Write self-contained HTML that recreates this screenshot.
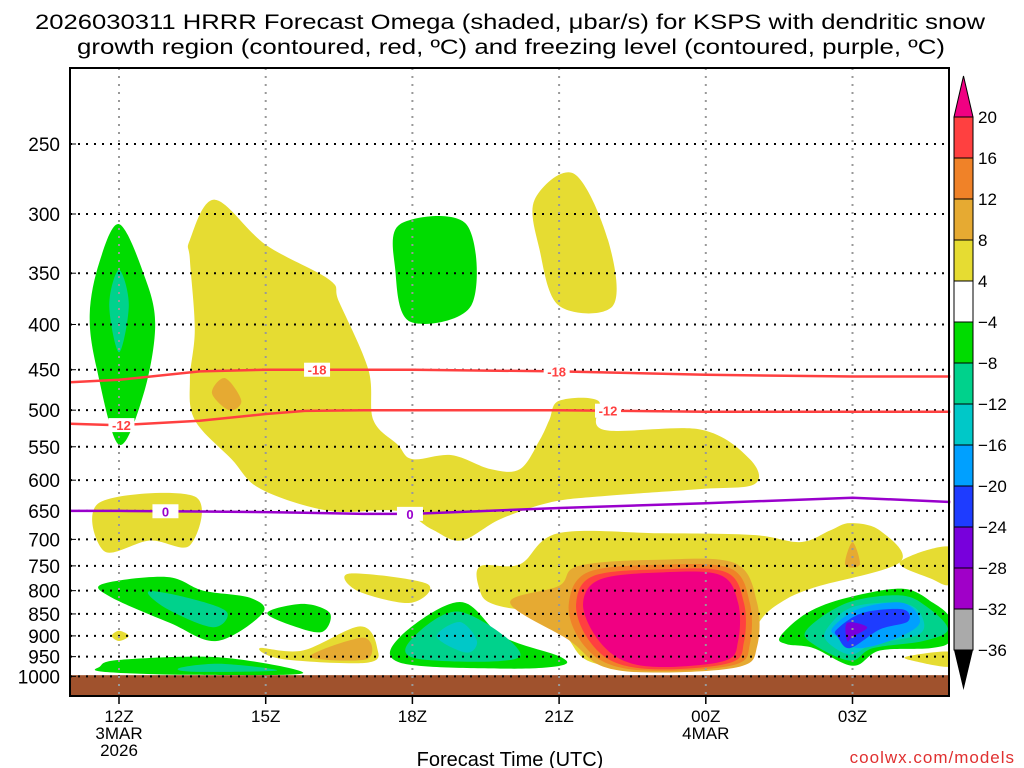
<!DOCTYPE html>
<html><head><meta charset="utf-8"><style>
html,body{margin:0;padding:0;background:#fff;}
svg{display:block;font-family:"Liberation Sans",sans-serif;}
</style></head><body>
<svg id="chart" width="1024" height="768" viewBox="0 0 1024 768">
<text x="510" y="29" font-size="21" text-anchor="middle" textLength="950" lengthAdjust="spacingAndGlyphs">2026030311 HRRR Forecast Omega (shaded, μbar/s) for KSPS with dendritic snow</text>
<text x="511" y="54" font-size="21" text-anchor="middle" textLength="868" lengthAdjust="spacingAndGlyphs">growth region (contoured, red, ºC) and freezing level (contoured, purple, ºC)</text>
<g id="plot"></g>
<g id="cbar"></g>
<text x="510" y="766" font-size="20" text-anchor="middle">Forecast Time (UTC)</text>
<text x="1015" y="763" font-size="17" fill="#e03030" text-anchor="end" letter-spacing="1">coolwx.com/models</text>
</svg>
<script>
const pTicks=[250,300,350,400,450,500,550,600,650,700,750,800,850,900,950,1000];
const hourTicks=[12,15,18,21,24,27];
const hourLabels=["12Z","15Z","18Z","21Z","00Z","03Z"];
const lineHours=[11,12,13.65,15,15.8,17,18,21,24,27,29];
const iso18=[465,462,452,450,450,450,450,452,456,458,458];
const iso12=[518,520,514,505,501,500,500,500,502,502,502];
const iso0=[650,650,651,652,653,655,655,645,637,628,635];
const cbLevels=["20","16","12","8","4","−4","−8","−12","−16","−20","−24","−28","−32","−36"];
const cbColors=["#ff4040","#f08228","#e6aa32","#e6dc32","#ffffff","#00dc00","#00d28c","#00c8c8","#00a0ff","#1e3cff","#7800dc","#a000c8","#aaaaaa"];
const YEL="#e6dc32",GOLD="#e6aa32",ORA="#f08228",RED="#ff4040",PINK="#f00082",GRN="#00dc00",TGR="#00d28c",CYN="#00c8c8",LBL="#00a0ff",BLU="#1e3cff",PUR="#7800dc";
const regions=[
 ["yellow-upper-blob",YEL,[[13.45,321],[13.96,289],[15.0,325],[16.3,356],[16.5,377],[17.1,450],[17.2,513],[17.7,547],[18.0,568],[18.8,562],[19.6,583],[20.2,583],[20.6,541],[20.8,513],[21.0,488],[21.8,488],[21.9,526],[23.9,526],[24.9,568],[25.0,606],[23.9,614],[21.8,626],[20.8,636],[19.8,664],[19.0,702],[18.4,682],[17.7,650],[16.3,650],[14.9,614],[14.3,568],[13.55,513],[13.45,462],[13.55,405],[13.45,338]]],
 ["gold-upper-spot",GOLD,[[14.17,460],[14.5,488],[14.25,500],[13.9,478]]],
 ["yellow-top-blob",YEL,[[20.5,289],[21.3,270],[22.0,321],[22.1,381],[21.0,381],[20.6,329]]],
 ["green-18z-blob",GRN,[[17.75,308],[19.1,308],[19.2,381],[17.95,397],[17.65,347]]],
 ["green-12z-spindle",GRN,[[12.0,308],[12.5,350],[12.74,400],[12.5,480],[12.0,547],[11.55,450],[11.4,390],[11.6,340]]],
 ["teal-12z-spindle",TGR,[[12.0,347],[12.2,380],[12.0,430],[11.8,380]]],
 ["yellow-12z-low",YEL,[[11.6,636],[13.55,626],[13.45,711],[12.63,702],[11.7,722]]],
 ["yellow-17z-blob",YEL,[[16.72,765],[18.3,786],[17.95,826],[16.87,800]]],
 ["yellow-lower-main",YEL,[[19.38,751],[20.2,747],[20.98,689],[23.06,689],[24.97,692],[25.93,705],[26.54,684],[26.95,671],[27.56,684],[27.97,743],[26.2,794],[25.52,826],[25.1,867],[24.8,946],[23.88,973],[21.84,970],[21.22,912],[21.02,840],[20.2,840],[19.59,826],[19.38,800]]],
 ["yellow-right-edge",YEL,[[27.97,743],[29,714],[29,785],[28.6,775]]],
 ["yellow-right-bottom",YEL,[[28.1,950],[29,938],[29,975],[28.3,962]]],
 ["gold-03z-spot",GOLD,[[27.0,705],[27.15,748],[26.85,748]]],
 ["gold-ring",GOLD,[[21.4,750],[23.06,738],[24.6,745],[25.05,826],[25.05,925],[24.7,975],[23.06,990],[21.9,975],[21.2,910],[20.0,826],[21.0,790]]],
 ["orange-ring",ORA,[[21.6,762],[23.06,748],[24.5,755],[24.9,826],[24.9,920],[24.6,970],[23.06,986],[22.0,968],[21.4,905],[21.2,826]]],
 ["red-ring",RED,[[21.7,770],[23.06,757],[24.4,762],[24.78,826],[24.78,915],[24.5,965],[23.06,982],[22.1,962],[21.55,900],[21.35,826]]],
 ["pink-core",PINK,[[21.84,777],[23.06,763],[24.29,768],[24.66,826],[24.66,912],[24.39,960],[23.06,976],[22.25,956],[21.73,898],[21.49,826]]],
 ["green-03z-blob",GRN,[[25.52,902],[26.07,848],[26.89,815],[28.03,796],[28.65,826],[29,860],[29,912],[28.6,929],[27.56,935],[27.01,973],[26.2,929],[25.66,920]]],
 ["teal-03z-blob",TGR,[[26.07,885],[26.89,826],[27.97,810],[28.53,835],[28.95,885],[28.45,912],[27.42,929],[26.95,960],[26.2,920]]],
 ["cyan-03z-blob",CYN,[[26.5,880],[27.0,835],[27.97,826],[28.38,848],[28.38,895],[27.42,920],[26.95,945],[26.47,912]]],
 ["lightblue-03z-blob",LBL,[[26.6,880],[27.15,838],[28.03,826],[28.38,867],[27.97,902],[27.15,929],[26.68,902]]],
 ["blue-03z-blob",BLU,[[26.68,885],[27.2,848],[28.03,840],[28.13,867],[27.56,885],[26.95,929],[26.7,902]]],
 ["purple-03z-core",PUR,[[26.89,870],[27.3,880],[27.0,902],[26.89,912]]],
 ["green-13z-blob",GRN,[[11.67,786],[12.98,772],[13.72,800],[14.68,815],[14.94,848],[14.0,912],[13.04,870],[11.82,813]]],
 ["teal-13z-blob",TGR,[[12.6,802],[13.4,815],[14.2,845],[13.92,880],[13.0,840]]],
 ["green-15z-blob",GRN,[[15.03,848],[15.76,828],[16.31,848],[16.17,890],[15.64,880]]],
 ["yellow-12z-diamond",YEL,[[11.85,900],[12.0,888],[12.2,900],[12.0,912]]],
 ["yellow-16z-blob",YEL,[[14.88,929],[15.76,935],[16.93,878],[17.28,929],[17.07,965],[15.35,956]]],
 ["gold-16z-blob",GOLD,[[15.9,950],[17.0,904],[17.07,956]]],
 ["green-19z-blob",GRN,[[17.75,902],[18.97,824],[19.85,902],[21.02,950],[21.02,973],[19.85,980],[17.75,965]]],
 ["teal-19z-blob",TGR,[[17.95,912],[18.97,845],[20.2,950],[18.15,956]]],
 ["cyan-19z-blob",CYN,[[18.5,902],[18.97,868],[19.32,912],[19.1,940]]],
 ["green-bottom-strip",GRN,[[11.61,975],[12.02,958],[14.07,952],[15.76,992],[13.39,996],[11.67,988]]],
 ["teal-bottom-strip",TGR,[[13.25,978],[14.07,968],[15.23,985],[13.5,988]]]
];
const NS="http://www.w3.org/2000/svg";
const L=70,R=949,T=68,B=696;
function xS(h){return 119+(h-12)*48.9;}
function yS(p){return 144+384*Math.log(p/250);}
function mk(tag,attrs,parent){const e=document.createElementNS(NS,tag);for(const k in attrs)e.setAttribute(k,attrs[k]);parent.appendChild(e);return e;}
function smooth(pts){
 const n=pts.length;let d="M"+pts[0][0].toFixed(1)+","+pts[0][1].toFixed(1);
 for(let i=0;i<n;i++){const p0=pts[(i-1+n)%n],p1=pts[i],p2=pts[(i+1)%n],p3=pts[(i+2)%n];
  const c1=[p1[0]+(p2[0]-p0[0])/6,p1[1]+(p2[1]-p0[1])/6],c2=[p2[0]-(p3[0]-p1[0])/6,p2[1]-(p3[1]-p1[1])/6];
  d+="C"+c1[0].toFixed(1)+","+c1[1].toFixed(1)+" "+c2[0].toFixed(1)+","+c2[1].toFixed(1)+" "+p2[0].toFixed(1)+","+p2[1].toFixed(1);}
 return d+"Z";}
const plot=document.getElementById('plot');
const clipEl=mk('clipPath',{id:'clip'},plot);
mk('rect',{x:L,y:T,width:R-L,height:B-T},clipEl);
const shades=mk('g',{'clip-path':'url(#clip)'},plot);


regions.forEach(r=>{
 const el=mk('path',{d:smooth(r[2].map(q=>[xS(q[0]),yS(q[1])])),fill:r[1]},shades);
 
 
});
const ground=mk('rect',{x:L,y:yS(997),width:R-L,height:B-yS(997),fill:'#a0522d'},shades);


pTicks.forEach(p=>{
 const g=mk('line',{x1:L,x2:R,y1:yS(p),y2:yS(p),stroke:'#000','stroke-width':2,'stroke-dasharray':'2 6'},plot);
 
 
 const t=mk('text',{x:60,y:yS(p)+7,'font-size':19,'text-anchor':'end'},plot);t.textContent=p;
 
 
 mk('line',{x1:L,x2:L+6,y1:yS(p),y2:yS(p),stroke:'#000','stroke-width':1},plot);
});
hourTicks.forEach((h,i)=>{
 const g=mk('line',{x1:xS(h),x2:xS(h),y1:T,y2:B,stroke:'#999','stroke-width':2,'stroke-dasharray':'2 6'},plot);
 
 
 mk('line',{x1:xS(h),x2:xS(h),y1:B,y2:B+8,stroke:'#000','stroke-width':1.5},plot);
 const t=mk('text',{x:xS(h),y:722,'font-size':17,'text-anchor':'middle'},plot);t.textContent=hourLabels[i];
 
 
});
[["3MAR",12,739],["2026",12,756],["4MAR",24,739]].forEach(a=>{
 const t=mk('text',{x:xS(a[1]),y:a[2],'font-size':17,'text-anchor':'middle'},plot);t.textContent=a[0];
 
 
});
function drawLine(vals,color,name,labels,txt){
 const pts=lineHours.map((h,i)=>[xS(h),yS(vals[i])]);
 const d="M"+pts.map(p=>p[0].toFixed(1)+","+p[1].toFixed(1)).join("L");
 const el=mk('path',{d:d,fill:'none',stroke:color,'stroke-width':2.5,'stroke-linejoin':'round'},plot);
 
 
 labels.forEach(h=>{
  let i=0;while(i<lineHours.length-2&&lineHours[i+1]<h)i++;
  const f=(h-lineHours[i])/(lineHours[i+1]-lineHours[i]);const p=vals[i]+f*(vals[i+1]-vals[i]);
  mk('rect',{x:xS(h)-13,y:yS(p)-7,width:26,height:14,fill:'#fff'},plot);
  const t=mk('text',{x:xS(h),y:yS(p)+5,'font-size':13,'font-weight':'bold',fill:color,'text-anchor':'middle'},plot);t.textContent=txt;
  
  
 });
}
drawLine(iso18,'#ff4040','contour-minus18',[16.05,20.95],'-18');
drawLine(iso12,'#ff4040','contour-minus12',[12.05,22.0],'-12');
drawLine(iso0,'#9900cc','freezing-level-0',[12.95,17.95],'0');
const frame=mk('rect',{x:L,y:T,width:R-L,height:B-T,fill:'none',stroke:'#000','stroke-width':2},plot);


const cb=document.getElementById('cbar');
const cbX=954,cbW=19,cbTop=117,cbH=41;
mk('path',{d:`M${cbX},${cbTop}L${cbX+cbW/2},76L${cbX+cbW},${cbTop}Z`,fill:'#f00082',stroke:'#000','stroke-width':1},cb);
cbColors.forEach((c,i)=>{
 const r=mk('rect',{x:cbX,y:cbTop+i*cbH,width:cbW,height:cbH,fill:c,stroke:'#000','stroke-width':1},cb);
 
 
});
const cbBot=cbTop+cbColors.length*cbH;
mk('path',{d:`M${cbX},${cbBot}L${cbX+cbW/2},690L${cbX+cbW},${cbBot}Z`,fill:'#000'},cb);
cbLevels.forEach((s,i)=>{
 const t=mk('text',{x:978,y:cbTop+i*cbH+6,'font-size':17},cb);t.textContent=s;
 
 
});
</script>
</body></html>
